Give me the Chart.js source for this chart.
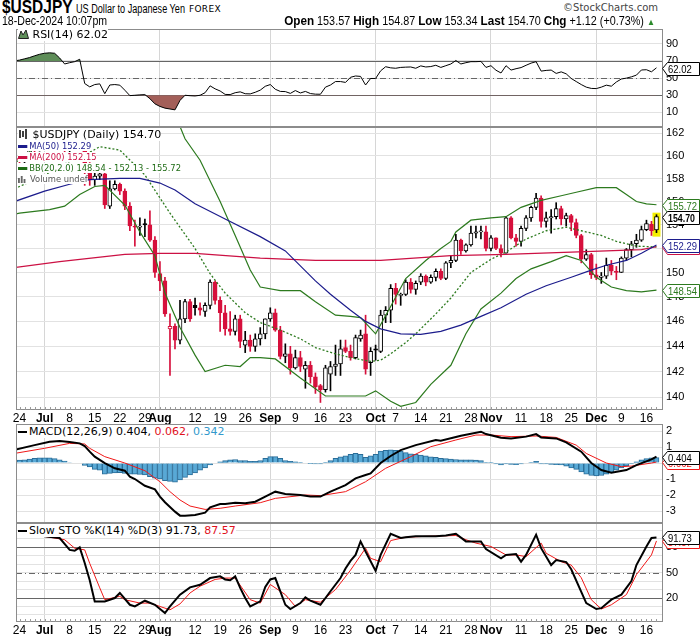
<!DOCTYPE html>
<html>
<head>
<meta charset="utf-8">
<script src="https://cdn.jsdelivr.net/npm/chart.js@4.4.1/dist/chart.umd.min.js"></script>
<style>
  body { margin: 0; width: 700px; height: 639px; background: #fff; position: relative; overflow: hidden;
         font-family: "Liberation Sans Narrow", "Arial Narrow", "Liberation Sans", Arial, sans-serif; }
  canvas { position: absolute; left: 0; }
  .t { position: absolute; white-space: nowrap; color: #000; transform-origin: 0 0; }
  .lg { position: absolute; left: 18px; white-space: nowrap; font-family: "DejaVu Sans", Verdana, sans-serif; }
  .lg span.b { background: #fff; }
  .ov { transform: scaleX(0.93); transform-origin: 0 0; }
  .dash { display: inline-block; width: 10px; height: 3px; vertical-align: middle; margin-right: 2px; }
</style>
</head>
<body>

<canvas id="rsi" width="700" height="102" style="top:27px"></canvas>
<canvas id="main" width="700" height="301" style="top:125px"></canvas>
<canvas id="macd" width="700" height="103" style="top:422px"></canvas>
<canvas id="sto" width="700" height="117" style="top:521px"></canvas>

<!-- header -->
<div class="t" style="left:2px;top:-3px;font-size:18px;font-weight:bold;transform:scaleX(0.86);">$USDJPY</div>
<div class="t" style="left:76px;top:2px;font-size:12px;transform:scaleX(0.76);">US Dollar to Japanese Yen</div>
<div class="t" style="left:189px;top:4px;font-size:9px;font-family:'DejaVu Sans',sans-serif;letter-spacing:0.3px;">FOREX</div>
<div class="t" style="right:42px;top:2px;font-size:10px;color:#444;font-family:'DejaVu Sans',sans-serif;">©StockCharts.com</div>
<div class="t" style="left:2px;top:14px;font-size:12px;transform:scaleX(0.88);">18-Dec-2024 10:07pm</div>
<div class="t" style="right:45px;top:13px;font-size:12px;transform:scaleX(0.9);transform-origin:100% 0;">
  <b style="font-size:13px">Open</b> 153.57 <b style="font-size:13px">High</b> 154.87 <b style="font-size:13px">Low</b> 153.34
  <b style="font-size:13px">Last</b> 154.70 <b style="font-size:13px">Chg</b> +1.12 (+0.73%) <span style="color:#2a8a2a;font-size:9px">▲</span>
</div>

<!-- panel legends -->
<div class="lg" style="top:29px;font-size:11px;line-height:12px;">
  <span class="b"><svg width="11" height="10" style="vertical-align:-1px"><path d="M0.5 9.5 L3 2 L5 6 L8 1 L10.5 9.5 Z" fill="#5f8f5a" stroke="#222" stroke-width="1"/></svg> RSI(14) 62.02</span>
</div>
<div class="lg" style="top:129px;font-size:11px;line-height:11px;">
  <span class="b"><svg width="11" height="10" style="vertical-align:-1px"><path d="M2 1 V9 M5 2 V8 M8 0 V10" stroke="#000" stroke-width="1.5"/></svg> $USDJPY (Daily) 154.70</span>
</div>
<div class="lg ov" style="top:141px;font-size:9px;line-height:11px;color:#1c1c8c;">
  <span class="b"><span class="dash" style="background:#1c1c8c"></span>MA(50) 152.29</span>
</div>
<div class="lg ov" style="top:152px;font-size:9px;line-height:11px;color:#cc1144;">
  <span class="b"><span class="dash" style="background:#cc1144"></span>MA(200) 152.15</span>
</div>
<div class="lg ov" style="top:163px;font-size:9px;line-height:11px;color:#1e6b14;">
  <span class="b"><span class="dash" style="background:#1e6b14"></span>BB(20,2.0) 148.54 - 152.13 - 155.72</span>
</div>
<div class="lg ov" style="top:174px;font-size:9px;line-height:11px;color:#555;">
  <span class="b"><svg width="10" height="9" style="vertical-align:-1px"><path d="M1 9 V4 M4 9 V2 M7 9 V5" stroke="#666" stroke-width="2"/></svg> Volume undef</span>
</div>
<div class="lg" style="top:426px;font-size:11px;line-height:12px;">
  <span class="b"><span class="dash" style="background:#000;width:9px;height:2px"></span>MACD(12,26,9) 0.404, <span style="color:#e0101c">0.062,</span> <span style="color:#3399cc">0.342</span></span>
</div>
<div class="lg" style="top:525px;font-size:11px;line-height:12px;">
  <span class="b"><span class="dash" style="background:#000;width:9px;height:2px"></span>Slow STO %K(14) %D(3) 91.73, <span style="color:#e0101c">87.57</span></span>
</div>

<script>
// ---- x axis: trading-day index 0 = 24 Jun 2024 ... 127 = 18 Dec 2024
const tickIdx = [0, 5, 10, 15, 20, 25, 28, 35, 40, 45, 50, 55, 60, 65, 71, 75, 80, 85, 90, 94, 100, 105, 110, 115, 120, 125];
const tickLbl = ['24', 'Jul', '8', '15', '22', '29', 'Aug', '12', '19', '26', 'Sep', '9', '16', '23', 'Oct', '7', '14', '21', '28', 'Nov', '11', '18', '25', 'Dec', '9', '16'];
const monthIdx = [5, 28, 50, 71, 94, 115];

// ---- daily candles
const open = [
  159.8, 159.6, 159.7, 160.8, 160.7, 160.9, 161.5, 161.5, 161.2, 161.2,
  160.7, 160.8, 161.3, 161.6, 158.9, 157.9, 158.2, 158.4, 155.6, 157.1,
  157.5, 156.9, 155.6, 153.9, 153.8, 154.1, 154.0, 152.7, 149.9, 149.3,
  145.4, 145.6, 144.5, 146.2, 147.6, 147.3, 147.1, 146.8, 147.3, 149.2,
  147.7, 146.7, 145.4, 145.2, 146.2, 144.1, 144.5, 144.0, 144.6, 145.0,
  146.2, 146.7, 145.3, 143.2, 143.4, 142.3, 143.1, 142.2, 142.5, 141.6,
  140.9, 140.6, 141.8, 142.4, 142.6, 143.9, 143.6, 143.1, 144.6, 145.0,
  142.7, 143.8, 143.6, 146.5, 146.9, 148.7, 148.1, 148.2, 149.2, 148.6,
  149.2, 149.7, 149.2, 149.6, 150.1, 149.5, 150.8, 151.0, 152.7, 151.8,
  152.3, 153.3, 153.4, 153.4, 152.0, 152.9, 152.0, 151.6, 154.6, 152.9,
  152.6, 153.7, 154.6, 155.5, 156.3, 154.3, 154.6, 154.7, 155.4, 154.5,
  154.8, 154.2, 153.1, 151.1, 151.5, 149.8, 149.6, 149.7, 150.6, 150.1,
  150.0, 151.2, 151.9, 152.4, 152.7, 153.6, 154.05, 153.57];
const high = [
  159.9, 159.8, 160.9, 160.9, 161.3, 161.7, 161.7, 161.9, 161.4, 161.2,
  161.0, 161.4, 161.8, 161.8, 159.4, 158.8, 158.9, 158.6, 157.8, 157.8,
  157.6, 157.1, 155.9, 154.4, 154.6, 154.5, 155.2, 153.0, 150.9, 149.6,
  146.6, 145.8, 147.7, 147.8, 147.8, 147.9, 147.5, 147.5, 149.4, 149.3,
  148.0, 147.3, 146.8, 146.5, 146.5, 145.2, 144.9, 145.0, 145.5, 146.2,
  147.1, 147.0, 145.6, 144.2, 144.0, 143.7, 143.6, 142.8, 142.8, 141.9,
  141.0, 142.5, 142.8, 144.1, 144.5, 144.5, 144.1, 144.9, 145.3, 146.5,
  143.9, 144.1, 146.9, 147.2, 149.0, 149.1, 148.3, 149.4, 149.5, 149.3,
  149.9, 149.8, 149.8, 150.3, 150.3, 150.9, 151.4, 153.2, 152.8, 152.4,
  153.9, 153.9, 153.9, 153.9, 153.1, 152.9, 152.3, 154.7, 154.7, 153.2,
  153.9, 154.8, 155.6, 156.7, 156.5, 155.1, 155.3, 155.9, 155.6, 155.0,
  154.9, 154.5, 153.2, 151.9, 151.6, 150.7, 150.0, 151.2, 151.0, 150.5,
  151.3, 152.0, 152.6, 153.2, 153.9, 154.4, 154.3, 154.87];
const low = [
  159.2, 159.3, 159.6, 160.2, 160.4, 160.8, 161.2, 161.1, 160.9, 160.2,
  160.3, 160.7, 161.2, 157.4, 157.4, 157.4, 157.9, 155.4, 155.4, 157.0,
  156.6, 155.3, 153.5, 152.2, 153.1, 153.0, 152.6, 149.6, 148.5, 146.4,
  141.7, 143.8, 144.2, 145.9, 146.0, 146.5, 146.5, 146.4, 147.0, 147.4,
  145.2, 144.9, 144.9, 144.9, 143.9, 143.5, 143.6, 143.6, 144.1, 144.6,
  146.0, 145.2, 143.0, 142.7, 141.8, 142.2, 142.0, 140.7, 141.1, 140.3,
  139.6, 140.4, 140.5, 141.7, 141.7, 143.5, 142.9, 143.0, 144.4, 141.8,
  141.7, 142.9, 143.5, 145.9, 145.9, 147.4, 147.3, 148.1, 148.3, 148.2,
  149.0, 148.9, 149.1, 149.3, 149.4, 149.4, 150.4, 150.9, 151.5, 151.7,
  152.2, 152.9, 152.8, 151.8, 151.8, 151.9, 151.3, 151.6, 152.8, 152.2,
  152.2, 153.5, 154.3, 155.3, 153.8, 153.8, 153.3, 154.5, 154.0, 153.9,
  153.5, 152.9, 150.8, 151.0, 149.5, 149.4, 149.1, 149.5, 149.8, 149.4,
  150.0, 151.0, 151.3, 152.1, 152.6, 153.5, 153.1, 153.34];
const close = [
  159.6, 159.7, 160.8, 160.7, 160.9, 161.5, 161.5, 161.2, 161.2, 160.7,
  160.8, 161.3, 161.6, 158.9, 157.9, 158.2, 158.4, 155.7, 157.1, 157.5,
  156.9, 155.6, 153.9, 153.8, 153.9, 154.0, 152.7, 150.0, 149.3, 146.6,
  145.6, 144.5, 146.2, 147.6, 146.2, 147.1, 146.9, 147.3, 149.2, 147.7,
  146.7, 145.4, 145.2, 146.2, 144.4, 144.5, 144.0, 144.6, 145.0, 146.2,
  146.7, 145.3, 143.2, 143.4, 142.3, 143.1, 142.4, 142.5, 141.6, 140.8,
  140.6, 142.3, 142.4, 142.6, 143.8, 143.6, 143.1, 144.7, 144.9, 142.2,
  143.6, 143.7, 146.5, 146.9, 148.7, 148.2, 148.2, 149.2, 148.6, 149.1,
  149.7, 149.2, 149.6, 150.1, 149.5, 150.8, 151.0, 152.7, 151.8, 152.3,
  153.3, 153.4, 153.4, 152.0, 152.9, 152.0, 151.6, 154.6, 152.9, 152.6,
  153.7, 154.6, 155.5, 156.3, 154.3, 154.6, 154.7, 155.4, 154.5, 154.8,
  154.2, 153.1, 151.1, 151.5, 149.8, 149.6, 149.7, 150.6, 150.1, 150.0,
  151.2, 151.9, 152.4, 152.7, 153.6, 154.1, 153.5, 154.70];

// ---- price overlays [day, value]
const ma50 = [[-1, 156.0], [5, 156.9], [10, 157.5], [14, 157.9], [20, 158.0], [24, 158.0], [28, 157.6], [31, 157.0],
  [35, 155.8], [41, 154.5], [48, 153.0], [53, 151.8], [59, 149.3], [62, 148.2], [66, 146.9], [69, 146.0], [72, 145.4],
  [76, 145.0], [80, 144.95], [84, 145.2], [88, 145.7], [92, 146.4], [96, 147.1], [101, 148.2], [105, 148.9],
  [110, 149.6], [114, 150.2], [117, 150.6], [121, 151.0], [124, 151.6], [127, 152.29]];
const ma200 = [[-1, 150.4], [8, 150.9], [21, 151.5], [28, 151.6], [35, 151.6], [48, 151.2], [59, 151.0], [72, 151.0],
  [86, 151.4], [97, 151.5], [110, 151.7], [124, 151.9], [127, 152.15]];
const bbUpper = [[-1, 159.4], [0, 159.6], [5, 161.5], [10, 162.4], [14, 163.3], [18, 163.6], [24, 164.0], [28, 164.5],
  [30, 163.8], [32, 162.6], [33, 161.5], [36, 159.6], [40, 156.0], [43, 153.1], [46, 150.2], [48, 148.8], [52, 148.5],
  [56, 148.5], [59, 147.6], [63, 146.5], [66, 146.4], [68, 146.3], [71, 145.0], [74, 147.2], [77, 149.5], [81, 151.0],
  [84, 152.0], [86, 152.6], [87, 153.4], [90, 154.4], [94, 154.6], [97, 154.7], [100, 155.5], [104, 156.1], [108, 156.5],
  [111, 156.8], [115, 157.2], [119, 157.2], [121, 156.6], [123, 156.0], [125, 155.8], [127, 155.72]];
const bbMid = [[-1, 157.1], [0, 157.3], [5, 158.3], [10, 159.5], [14, 160.3], [16, 160.8], [20, 160.5], [25, 158.3],
  [30, 155.0], [35, 152.0], [38, 149.9], [41, 148.3], [45, 146.7], [48, 145.9], [52, 145.3], [56, 144.6], [59, 143.9],
  [63, 143.4], [66, 143.1], [70, 142.8], [72, 142.9], [74, 143.4], [77, 144.3], [79, 145.0], [83, 146.6], [86, 147.9],
  [90, 150.0], [94, 151.1], [97, 151.7], [101, 152.8], [105, 153.5], [109, 153.8], [112, 153.5], [116, 153.1],
  [119, 152.6], [123, 152.2], [127, 152.13]];
const bbLower = [[-1, 154.9], [0, 155.0], [6, 155.3], [9, 155.6], [12, 156.6], [15, 157.3], [17, 157.4], [21, 155.7],
  [24, 153.4], [27, 151.4], [29, 148.3], [32, 145.5], [35, 143.3], [37, 142.0], [41, 142.5], [44, 142.4], [46, 143.1],
  [48, 143.1], [51, 143.0], [56, 141.5], [61, 140.1], [66, 140.1], [69, 140.1], [71, 140.5], [74, 139.7], [76, 139.3],
  [79, 139.6], [82, 141.0], [86, 142.5], [89, 145.0], [92, 147.0], [96, 148.3], [99, 149.5], [102, 150.3], [106, 150.9],
  [109, 151.4], [112, 151.0], [115, 149.6], [118, 148.8], [121, 148.5], [124, 148.4], [127, 148.54]];
const priceTicks = [140, 142, 144, 146, 148, 150, 152, 154, 156, 158, 160, 162];

// ---- RSI(14), one value per day starting at day -1
const rsi = [70.2,
  71, 72.5, 74, 76, 77.8, 79, 79.5, 79, 73.5, 66.5, 68, 69.2, 72, 43.7, 39.8, 42.5, 43.3, 31.9, 42, 42.5,
  41.8, 35.9, 29.6, 30, 30.5, 30.8, 26, 20, 17, 15, 14, 13, 24, 30, 29.5, 29.2, 30, 33, 41, 37.5,
  35, 31, 30.8, 33, 34, 31.8, 31.6, 33.5, 36, 40.5, 42.5, 37, 34.5, 34.3, 32.2, 35.5, 32.7, 34.5, 32, 31.3,
  31.2, 39.5, 42, 46, 46, 45, 51, 52.5, 52, 42, 49.6, 49.6, 58.5, 63.3, 62, 61.5, 62.5, 62.8, 63, 61.5,
  64.3, 63, 63.5, 65, 62.5, 64.5, 66.5, 70.5, 66.5, 68, 69.2, 69.2, 69.5, 62.5, 64.5, 59.2, 56, 64.5, 59.4, 61,
  62.3, 65, 67.5, 69.2, 58.2, 59, 59.4, 55.5, 57.3, 55, 49.6, 46, 42.5, 39.5, 38, 37.8, 39.5, 41.8, 40.6, 45.5,
  49, 50, 51.5, 53.5, 59.5, 59.8, 57.4, 62.02];

// ---- MACD(12,26,9)
const macdLine = [[-1, 0.82], [3, 1.12], [6, 1.33], [8, 1.37], [10, 1.32], [12, 1.23], [13, 1.06], [14, 0.71], [15, 0.4],
  [17, 0.0], [19, -0.33], [21, -0.48], [22, -0.85], [23, -1.0], [25, -1.42], [27, -1.65], [28, -2.1], [29, -2.45],
  [31, -3.04], [32, -3.29], [33, -3.29], [35, -3.25], [37, -3.1], [38, -2.77], [40, -2.56], [41, -2.56], [43, -2.48],
  [45, -2.52], [47, -2.42], [49, -2.1], [51, -1.79], [53, -1.94], [56, -2.0], [58, -2.1], [60, -2.1], [62, -1.79],
  [65, -1.38], [67, -0.96], [69, -0.75], [70, -0.65], [72, 0.0], [74, 0.44], [76, 0.81], [79, 1.12], [83, 1.44],
  [84, 1.4], [88, 1.71], [92, 1.96], [93, 1.81], [96, 1.58], [98, 1.54], [101, 1.65], [103, 1.81], [104, 1.6],
  [107, 1.54], [109, 1.29], [112, 0.71], [114, 0.0], [116, -0.44], [118, -0.6], [121, -0.44], [123, -0.13],
  [126, 0.23], [127, 0.404]];
const macdSignal = [[-1, 0.6], [5, 0.92], [10, 1.23], [13, 1.19], [14, 0.92], [17, 0.4], [21, 0.0], [25, -0.48],
  [28, -1.17], [30, -1.79], [32, -2.31], [34, -2.69], [37, -2.9], [40, -2.83], [43, -2.69], [48, -2.48], [51, -2.21],
  [57, -2.0], [60, -2.04], [65, -1.79], [69, -1.17], [73, -0.33], [78, 0.4], [82, 1.02], [87, 1.44], [91, 1.75],
  [94, 1.75], [98, 1.65], [103, 1.69], [107, 1.6], [111, 1.12], [113, 0.6], [117, 0.0], [120, -0.23], [122, -0.19],
  [126, 0.0], [127, 0.062]];
const macdHist = [
  0.19, 0.2, 0.25, 0.3, 0.33, 0.33, 0.33, 0.28, 0.2, 0.12, 0.03, 0.0, 0.0, -0.15, -0.25, -0.4, -0.45, -0.7, -0.65, -0.62,
  -0.6, -0.65, -0.7, -0.7, -0.72, -0.75, -0.85, -0.95, -1.0, -1.1, -1.15, -1.2, -1.05, -0.9, -0.75, -0.62, -0.45, -0.3, -0.12, 0.0,
  0.08, 0.15, 0.2, 0.22, 0.15, 0.15, 0.1, 0.1, 0.15, 0.3, 0.4, 0.4, 0.3, 0.15, 0.1, 0.08, 0.02, 0.0, -0.02, -0.05,
  -0.05, 0.05, 0.15, 0.3, 0.38, 0.45, 0.55, 0.6, 0.55, 0.35, 0.45, 0.55, 0.75, 0.8, 0.82, 0.8, 0.75, 0.65, 0.58, 0.55,
  0.5, 0.45, 0.38, 0.35, 0.3, 0.28, 0.25, 0.22, 0.2, 0.2, 0.2, 0.18, 0.15, 0.05, 0.02, -0.05, -0.12, -0.05, -0.08, -0.1,
  -0.05, 0.0, 0.05, 0.1, -0.05, -0.05, -0.08, -0.1, -0.12, -0.2, -0.3, -0.4, -0.55, -0.7, -0.78, -0.8, -0.78, -0.7, -0.58, -0.45,
  -0.3, -0.18, -0.05, 0.08, 0.2, 0.28, 0.32, 0.342];

// ---- Slow Stochastic %K(14) %D(3)
const stoK = [[5, 93], [8, 91], [10, 77], [11, 76], [12, 80], [13, 61.5], [14, 41], [15, 16], [17, 16], [19, 20], [20, 26],
  [22, 12], [23, 10], [25, 16.8], [27, 12], [29, 2.2], [30, 10], [32, 24], [34, 32.6], [36, 35.7], [38, 43.6], [40, 45.6],
  [41, 42], [42, 41], [43, 45.6], [44, 32], [45, 20], [46, 10], [48, 16], [49, 33], [50, 42], [51, 43.6], [53, 12], [54, 7],
  [56, 14], [57, 20.7], [58, 16.8], [60, 12], [62, 28], [64, 43.6], [65, 55], [66, 64], [67, 71], [68, 87], [69, 75],
  [71, 52], [72, 71], [74, 96], [76, 91], [77, 92], [79, 93], [83, 93], [85, 94], [87, 96], [89, 87], [92, 87], [93, 78],
  [96, 67], [97, 71], [99, 72], [100, 63], [101, 71], [103, 95], [104, 79], [106, 59], [107, 65], [109, 62.6], [110, 54],
  [113, 14], [115, 7], [116, 8], [118, 18], [120, 24], [122, 40], [123, 59], [125, 81], [126, 91], [127, 91.73]];
const stoD = [[5, 93], [9, 89], [11, 79], [13, 77], [14, 61], [16, 32], [17, 18], [20, 22], [21, 18], [24, 14], [26, 14],
  [28, 10], [30, 6], [32, 13], [34, 26], [36, 34], [39, 42], [41, 43.6], [43, 43.6], [46, 18], [48, 14], [50, 36], [53, 24],
  [55, 10], [57, 18], [60, 15], [63, 30], [66, 53], [69, 79], [70, 67], [72, 63], [74, 88], [77, 92], [81, 93], [87, 94],
  [89, 89], [91, 85], [94, 81], [97, 71], [99, 71], [101, 69], [104, 85], [105, 73], [108, 63], [110, 59], [112, 44],
  [114, 18], [116, 7], [118, 12], [121, 24], [123, 47.6], [126, 71], [127, 87.57]];

// ---------------------------------------------------------------------------
const FONT = '"Liberation Sans Narrow", "Arial Narrow", "Liberation Sans", Arial, sans-serif';
const RED = '#d6103c';
const GREEN = '#2c7a1e';
const GRID = '#e2e2e2';

Chart.defaults.font.family = FONT;
Chart.defaults.animation = false;
Chart.defaults.responsive = false;
Chart.defaults.devicePixelRatio = 1;
Chart.defaults.plugins.legend.display = false;
Chart.defaults.plugins.tooltip.enabled = false;
Chart.defaults.elements.point.radius = 0;
Chart.defaults.elements.line.tension = 0;

const pts = a => a.map(([x, y]) => ({ x, y }));
const last = a => a[a.length - 1];

function xScale(labels) {
  return {
    type: 'linear', min: -0.7, max: 128.1, offset: false,
    afterBuildTicks: a => { a.ticks = tickIdx.map(v => ({ value: v })); },
    afterFit: a => { a.height = labels ? 14 : 0; a.paddingLeft = 0; a.paddingRight = 0; },
    grid: { offset: false, drawTicks: false,
      color: c => (c.tick && monthIdx.includes(c.tick.value)) ? '#d6d6d6' : 'rgba(0,0,0,0)' },
    border: { display: false },
    ticks: {
      display: labels, autoSkip: false, maxRotation: 0, minRotation: 0, padding: 1, color: '#000',
      callback: (v, i) => tickLbl[i],
      font: c => ({ family: FONT, size: 12, weight: monthIdx.includes(tickIdx[c.index]) ? 'bold' : 'normal' })
    }
  };
}

function yScale(vals, extra, shown) {
  return Object.assign({
    type: 'linear', position: 'right',
    afterBuildTicks: a => { a.ticks = vals.map(v => ({ value: v })); },
    afterFit: a => { a.width = 38; a.paddingTop = 0; a.paddingBottom = 0; },
    grid: { color: GRID, drawTicks: false },
    border: { display: false },
    ticks: { padding: 4, color: '#000', autoSkip: false, font: { family: FONT, size: 11 },
      callback: v => (!shown || shown.includes(v)) ? v : '' }
  }, extra);
}

// panel frame
const frame = {
  id: 'frame',
  afterDatasetsDraw(ch) {
    const a = ch.chartArea, c = ch.ctx;
    c.save();
    c.strokeStyle = '#8c8c8c';
    c.lineWidth = 1;
    c.strokeRect(Math.round(a.left) + 0.5, Math.round(a.top) + 0.5, Math.round(a.right - a.left), Math.round(a.bottom - a.top) - 1);
    c.restore();
  }
};

// horizontal signal lines (70/30, 80/20, 50)
const hlines = {
  id: 'hlines',
  beforeDatasetsDraw(ch, args, opts) {
    const y = ch.scales.y, a = ch.chartArea, c = ch.ctx;
    (opts.lines || []).forEach(l => {
      const py = Math.round(y.getPixelForValue(l.v)) + 0.5;
      c.save();
      c.strokeStyle = l.color;
      c.lineWidth = 1;
      c.setLineDash(l.dash || []);
      c.beginPath(); c.moveTo(a.left, py); c.lineTo(a.right, py); c.stroke();
      c.restore();
    });
  }
};

// small day ticks along the bottom edge
const dayTicks = {
  id: 'dayTicks',
  afterDatasetsDraw(ch, args, opts) {
    if (!opts.on) return;
    const x = ch.scales.x, a = ch.chartArea, c = ch.ctx;
    c.save();
    c.strokeStyle = '#9a9a9a';
    c.lineWidth = 1;
    c.beginPath();
    for (let i = 0; i < close.length; i++) {
      const px = Math.round(x.getPixelForValue(i)) + 0.5;
      c.moveTo(px, a.bottom - 3); c.lineTo(px, a.bottom);
    }
    c.stroke();
    c.restore();
  }
};

// value tags on the right axis
const tags = {
  id: 'tags',
  afterDraw(ch, args, opts) {
    const y = ch.scales.y, c = ch.ctx, x0 = Math.round(ch.chartArea.right);
    (opts.items || []).forEach(t => {
      const py = Math.round(y.getPixelForValue(t.v)) + 0.5;
      c.save();
      c.beginPath();
      c.moveTo(x0 + 0.5, py);
      c.lineTo(x0 + 5.5, py - 6);
      c.lineTo(699.5, py - 6);
      c.lineTo(699.5, py + 7);
      c.lineTo(x0 + 5.5, py + 7);
      c.closePath();
      c.fillStyle = '#fff';
      c.fill();
      c.strokeStyle = t.color;
      c.lineWidth = 1;
      c.stroke();
      c.fillStyle = t.color;
      c.font = (t.bold ? 'bold ' : '') + '11px ' + FONT;
      c.textBaseline = 'middle';
      c.translate(x0 + 6, py + 1);
      c.scale(t.bold ? 0.8 : 0.86, 1);
      c.fillText(t.text, 0, 0);
      c.restore();
    });
  }
};

// yellow mark behind the latest candle
const lastMark = {
  id: 'lastMark',
  beforeDatasetsDraw(ch) {
    const i = close.length - 1, x = ch.scales.x, y = ch.scales.y, c = ch.ctx;
    const px = x.getPixelForValue(i);
    const top = y.getPixelForValue(high[i]) - 2, bot = y.getPixelForValue(low[i]) + 4;
    c.save();
    c.fillStyle = '#f4f000';
    c.fillRect(px - 4, top, 8, bot - top);
    c.restore();
  }
};

const plugins = [frame, hlines, dayTicks, tags];
const pad = { left: 16, right: 0, top: 2, bottom: 2 };

// ---------------- RSI panel
new Chart(document.getElementById('rsi'), {
  type: 'line',
  data: {
    datasets: [
      { data: rsi.map((v, i) => ({ x: i - 1, y: v })), borderColor: '#000', borderWidth: 1,
        fill: { target: { value: 70 }, above: '#5e8d58', below: 'rgba(0,0,0,0)' } },
      { data: rsi.map((v, i) => ({ x: i - 1, y: v })), borderColor: 'rgba(0,0,0,0)', borderWidth: 0,
        fill: { target: { value: 30 }, above: 'rgba(0,0,0,0)', below: '#a35f59' } }
    ]
  },
  options: {
    layout: { padding: pad },
    scales: { x: xScale(false), y: yScale([10, 30, 50, 70, 90], { min: -7, max: 107.3 }) },
    plugins: {
      hlines: { lines: [{ v: 70, color: '#666' }, { v: 30, color: '#666' }, { v: 50, color: '#666', dash: [6, 3, 1, 3] }] },
      tags: { items: [{ v: last(rsi), text: last(rsi).toFixed(2), color: '#000' }] }
    }
  },
  plugins
});

// ---------------- price panel
const upColor = close.map((c, i) => c >= (i ? close[i - 1] : open[i]) ? '#000' : RED);
const bodyFill = close.map((c, i) => c >= open[i] ? '#fff' : upColor[i]);

new Chart(document.getElementById('main'), {
  type: 'bar',
  data: {
    datasets: [
      { type: 'line', data: pts(ma50), borderColor: '#1c1c8c', borderWidth: 1.2, order: 0 },
      { type: 'line', data: pts(ma200), borderColor: '#cc1144', borderWidth: 1.2, order: 0 },
      { type: 'line', data: pts(bbUpper), borderColor: GREEN, borderWidth: 1.2, order: 0 },
      { type: 'line', data: pts(bbLower), borderColor: GREEN, borderWidth: 1.2, order: 0 },
      { type: 'line', data: pts(bbMid), borderColor: GREEN, borderWidth: 1.3, borderDash: [2, 2], order: 0 },
      { data: close.map((c, i) => ({ x: i, y: [open[i], c] })), backgroundColor: bodyFill, borderColor: upColor,
        borderWidth: 1, borderSkipped: false, barThickness: 4, grouped: false, minBarLength: 1, order: 1 },
      { data: close.map((c, i) => ({ x: i, y: [low[i], high[i]] })), backgroundColor: upColor,
        barThickness: 1, grouped: false, order: 2 }
    ]
  },
  options: {
    layout: { padding: pad },
    scales: {
      x: xScale(true),
      y: yScale(priceTicks, { type: 'logarithmic', min: 139.02, max: 162.56 })
    },
    plugins: {
      dayTicks: { on: true },
      tags: { items: [
        { v: last(bbLower)[1], text: last(bbLower)[1].toFixed(2), color: GREEN },
        { v: last(bbUpper)[1], text: last(bbUpper)[1].toFixed(2), color: GREEN },
        { v: last(ma200)[1], text: last(ma200)[1].toFixed(2), color: '#cc1144' },
        { v: last(ma50)[1], text: last(ma50)[1].toFixed(2), color: '#1c1c8c' },
        { v: last(close), text: last(close).toFixed(2), color: '#000', bold: true }
      ] }
    }
  },
  plugins: [lastMark, ...plugins]
});

// ---------------- MACD panel
new Chart(document.getElementById('macd'), {
  type: 'bar',
  data: {
    datasets: [
      { type: 'line', data: pts(macdLine), borderColor: '#000', borderWidth: 2, order: 0 },
      { type: 'line', data: pts(macdSignal), borderColor: '#f01818', borderWidth: 1, order: 0 },
      { data: macdHist.map((v, i) => ({ x: i, y: v })), backgroundColor: '#58a9d6', borderColor: '#2a6d98',
        borderWidth: 1, barPercentage: 1, categoryPercentage: 1, order: 1 }
    ]
  },
  options: {
    layout: { padding: pad },
    scales: {
      x: xScale(false),
      y: yScale([-3, -2, -1, 0, 1, 2], { min: -3.75, max: 2.44 })
    },
    plugins: {
      tags: { items: [
        { v: last(macdSignal)[1], text: last(macdSignal)[1].toFixed(3), color: '#f01818' },
        { v: last(macdLine)[1], text: last(macdLine)[1].toFixed(3), color: '#000' }
      ] }
    }
  },
  plugins
});

// ---------------- Slow stochastics panel
new Chart(document.getElementById('sto'), {
  type: 'line',
  data: {
    datasets: [
      { data: pts(stoK), borderColor: '#000', borderWidth: 2 },
      { data: pts(stoD), borderColor: '#f01818', borderWidth: 1 }
    ]
  },
  options: {
    layout: { padding: pad },
    scales: {
      x: xScale(true),
      y: yScale([0, 10, 20, 30, 40, 50, 60, 70, 80, 90, 100], { min: -8.4, max: 108.8 }, [20, 50, 80])
    },
    plugins: {
      dayTicks: { on: true },
      hlines: { lines: [{ v: 80, color: '#666' }, { v: 20, color: '#666' }, { v: 50, color: '#666', dash: [6, 3, 1, 3] }] },
      tags: { items: [
        { v: last(stoD)[1], text: last(stoD)[1].toFixed(2), color: '#f01818' },
        { v: last(stoK)[1], text: last(stoK)[1].toFixed(2), color: '#000' }
      ] }
    }
  },
  plugins
});
</script>
</body>
</html>
